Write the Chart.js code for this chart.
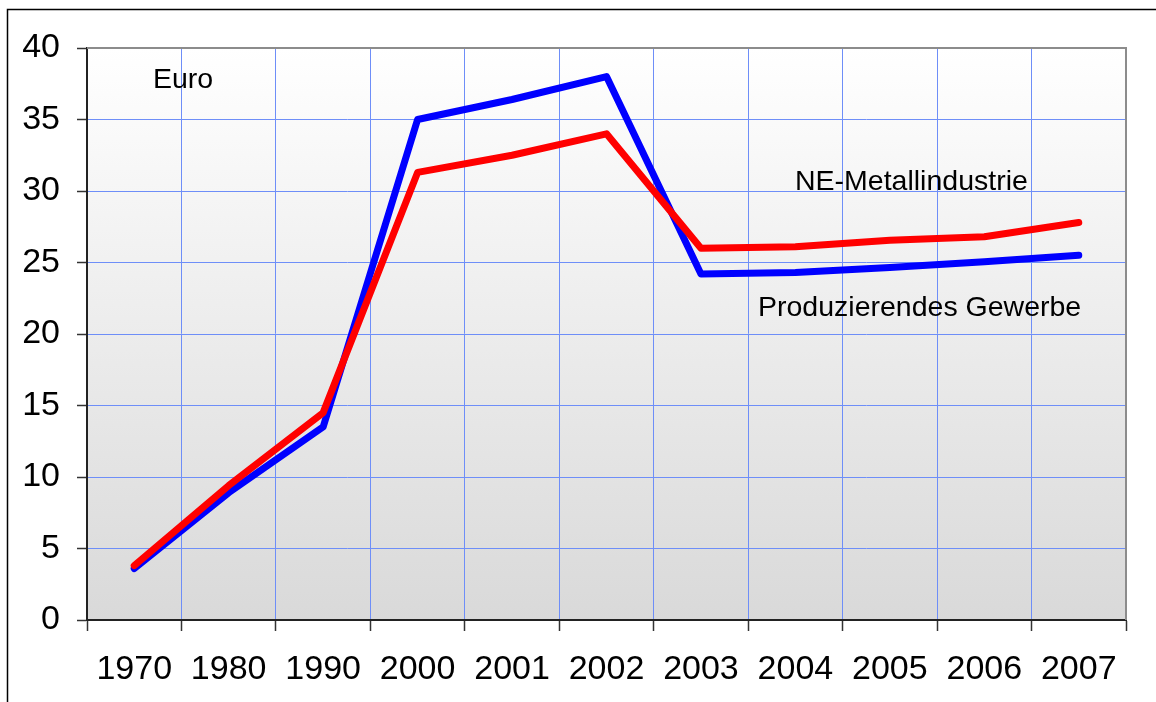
<!DOCTYPE html>
<html>
<head>
<meta charset="utf-8">
<script src="https://cdn.jsdelivr.net/npm/chart.js@4/dist/chart.umd.min.js"></script>
<style>
  html, body { margin: 0; padding: 0; background: #ffffff; }
  canvas { display: block; }
</style>
</head>
<body>
<canvas id="chart_cost" width="1156" height="702"></canvas>
<script>
// categories and values (Euro)
const years = ['1970', '1980', '1990', '2000', '2001', '2002', '2003', '2004', '2005', '2006', '2007'];
const neMetall = [3.8, 9.4, 14.5, 31.3, 32.5, 34.0, 26.0, 26.1, 26.55, 26.8, 27.8];
const produzierend = [3.6, 8.9, 13.5, 35.0, 36.4, 38.0, 24.2, 24.3, 24.65, 25.05, 25.5];
const yTicks = [0, 5, 10, 15, 20, 25, 30, 35, 40];

const FONT = '"Liberation Sans", Arial, sans-serif';
const GRID_COLOR = '#6e8ef8';

// frame, plot background gradient and annotations
const decorPlugin = {
    id: 'decor',
    beforeDraw(chart) {
        const ctx = chart.ctx;
        const a = chart.chartArea;
        ctx.save();
        const grad = ctx.createLinearGradient(0, a.top, 0, a.bottom);
        grad.addColorStop(0, '#ffffff');
        grad.addColorStop(1, '#d9d9d9');
        ctx.fillStyle = grad;
        ctx.fillRect(a.left, a.top, a.right - a.left, a.bottom - a.top);

        // outer frame
        ctx.strokeStyle = '#000000';
        ctx.lineWidth = 1.5;
        ctx.beginPath();
        ctx.moveTo(7.5, chart.height);
        ctx.lineTo(7.5, 9.5);
        ctx.lineTo(chart.width, 9.5);
        ctx.stroke();
        ctx.restore();
    },
    afterDatasetsDraw(chart) {
        const ctx = chart.ctx;
        const a = chart.chartArea;
        ctx.save();
        ctx.strokeStyle = '#8c8c8c';
        ctx.lineWidth = 2;
        ctx.beginPath();
        ctx.moveTo(a.left, a.top);
        ctx.lineTo(a.right, a.top);
        ctx.lineTo(a.right, a.bottom);
        ctx.stroke();

        ctx.fillStyle = '#000000';
        ctx.font = '28.5px ' + FONT;
        ctx.textBaseline = 'alphabetic';
        ctx.textAlign = 'left';
        ctx.fillText('Euro', 153, 88);
        ctx.fillText('NE-Metallindustrie', 795, 190);
        ctx.fillText('Produzierendes Gewerbe', 758, 316);
        ctx.restore();
    }
};

const chartObj = {
    type: 'line',
    data: {
        labels: years,
        datasets: [
            {
                label: 'NE-Metallindustrie',
                data: neMetall,
                borderColor: '#ff0000',
                borderWidth: 7,
                borderCapStyle: 'round',
                borderJoinStyle: 'round',
                pointRadius: 0,
                tension: 0
            },
            {
                label: 'Produzierendes Gewerbe',
                data: produzierend,
                borderColor: '#0000ff',
                borderWidth: 7,
                borderCapStyle: 'round',
                borderJoinStyle: 'round',
                pointRadius: 0,
                tension: 0
            }
        ]
    },
    options: {
        responsive: false,
        animation: false,
        devicePixelRatio: 1,
        layout: {
            padding: { left: 0, top: 48, right: 30, bottom: 0 }
        },
        plugins: {
            legend: { display: false },
            tooltip: { enabled: false }
        },
        scales: {
            x: {
                type: 'category',
                offset: true,
                grid: {
                    offset: true,
                    color: GRID_COLOR,
                    lineWidth: 1,
                    tickColor: '#333333',
                    tickLength: 11,
                    tickWidth: 1.5
                },
                border: { color: '#222222', width: 2 },
                ticks: {
                    color: '#000000',
                    font: { family: FONT, size: 34 },
                    padding: 18,
                    maxRotation: 0,
                    autoSkip: false
                },
                afterFit(scale) { scale.height = 82; }
            },
            y: {
                min: 0,
                max: 40,
                afterBuildTicks(scale) {
                    scale.ticks = yTicks.map(v => ({ value: v }));
                },
                grid: {
                    color: GRID_COLOR,
                    lineWidth: 1,
                    tickColor: '#333333',
                    tickLength: 10,
                    tickWidth: 1.5
                },
                border: { color: '#222222', width: 2 },
                ticks: {
                    color: '#000000',
                    font: { family: FONT, size: 34 },
                    padding: 17
                },
                afterFit(scale) { scale.width = 87; }
            }
        }
    },
    plugins: [decorPlugin]
};

new Chart(document.getElementById('chart_cost'), chartObj);
</script>
</body>
</html>
